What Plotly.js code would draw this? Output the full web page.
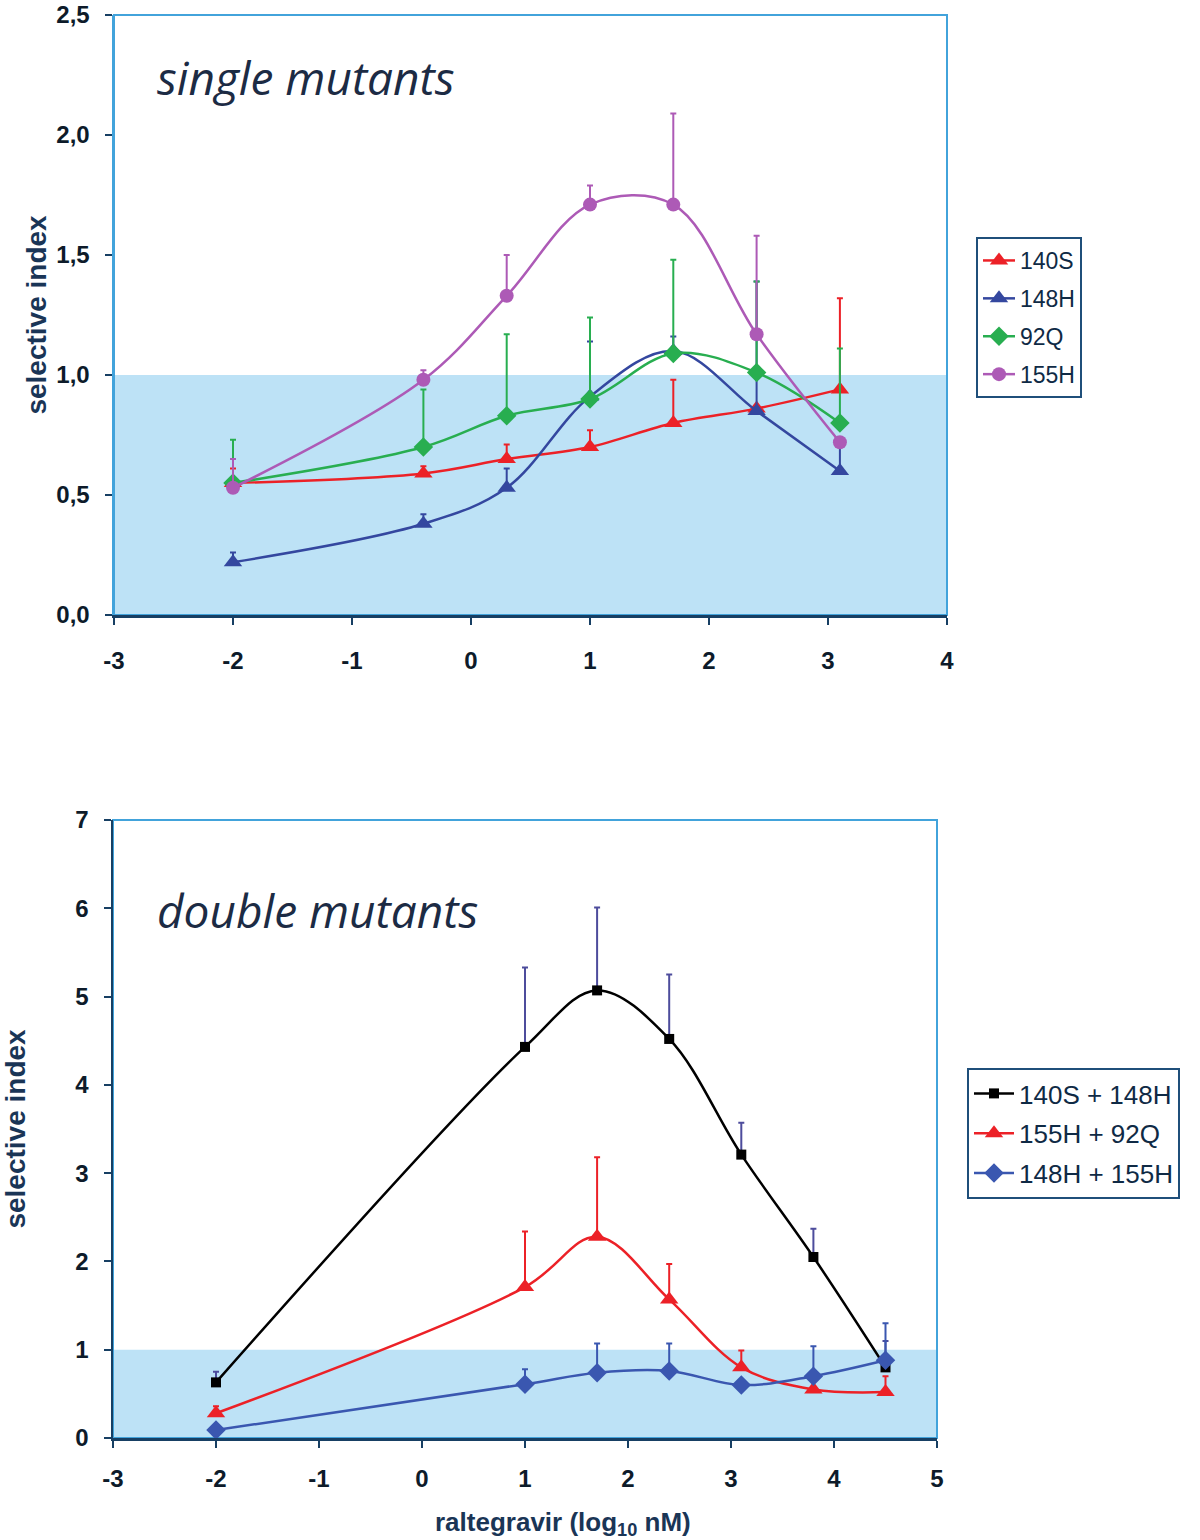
<!DOCTYPE html>
<html>
<head>
<meta charset="utf-8">
<script src="https://cdn.plot.ly/plotly-3.0.1.min.js"></script>
<style>html,body{margin:0;padding:0;background:#fff;}#chart{width:1200px;height:1540px;}</style>
</head>
<body>
<div id="chart"></div>
<script>
// ---------- data: single mutants (top panel) ----------
const xSingle = [-2, -0.4, 0.3, 1, 1.7, 2.4, 3.1];
const names1 = ['140S', '148H', '92Q', '155H'];
const v140S = [0.55, 0.59, 0.65, 0.70, 0.80, 0.86, 0.94];
const e140S = [0.06, 0.03, 0.06, 0.07, 0.18, 0.00, 0.38];
const v148H = [0.22, 0.38, 0.53, 0.91, 1.10, 0.85, 0.60];
const e148H = [0.04, 0.04, 0.08, 0.23, 0.06, 0.54, 0.12];
const v92Q  = [0.55, 0.70, 0.83, 0.90, 1.09, 1.01, 0.80];
const e92Q  = [0.18, 0.24, 0.34, 0.34, 0.39, 0.38, 0.31];
const v155H = [0.53, 0.98, 1.33, 1.71, 1.71, 1.17, 0.72];
const e155H = [0.12, 0.04, 0.17, 0.08, 0.38, 0.41, 0.00];

// ---------- data: double mutants (bottom panel) ----------
const xDouble = [-2, 1, 1.7, 2.4, 3.1, 3.8, 4.5];
const names2 = ['140S + 148H', '155H + 92Q', '148H + 155H'];
const vA = [0.63, 4.43, 5.07, 4.52, 3.21, 2.05, 0.80];
const eA = [0.12, 0.90, 0.94, 0.73, 0.36, 0.32, 0.30];
const vB = [0.28, 1.71, 2.28, 1.57, 0.80, 0.55, 0.52];
const eB = [0.08, 0.63, 0.90, 0.40, 0.19, 0.00, 0.18];
const vC = [0.09, 0.61, 0.74, 0.76, 0.60, 0.70, 0.88];
const eC = [0.00, 0.17, 0.33, 0.31, 0.00, 0.34, 0.42];

// ---------- tick labels ----------
const xTicks1 = [-3, -2, -1, 0, 1, 2, 3, 4];
const xLabels1 = ['-3', '-2', '-1', '0', '1', '2', '3', '4'];
const xTicks2 = [-3, -2, -1, 0, 1, 2, 3, 4, 5];
const xLabels2 = ['-3', '-2', '-1', '0', '1', '2', '3', '4', '5'];
const yTicks1 = [0, 0.5, 1, 1.5, 2, 2.5];
const yLabels1 = ['0,0', '0,5', '1,0', '1,5', '2,0', '2,5'];
const yTicks2 = [0, 1, 2, 3, 4, 5, 6, 7];
const yLabels2 = ['0', '1', '2', '3', '4', '5', '6', '7'];

const RED = '#ec2127', BLUE = '#34479f', GREEN = '#28ae50', PURPLE = '#ad5ab6',
      BLACK = '#000000', BLUE2 = '#3a57b0', ERRNAVY = '#4d4c9c';
const NAVY = '#173f63', LIGHTAX = '#42a3db', BAND = '#bde2f6', TXT = '#0d1b2a';

function tr(x, y, e, name, color, sym, size, xa, ya, legend, group, ecolor) {
  return {
    type: 'scatter', mode: 'lines+markers', x: x, y: y, name: name,
    xaxis: xa, yaxis: ya, legend: legend, legendgroup: group,
    line: {color: color, width: 2.5, shape: 'spline', smoothing: 1},
    marker: {color: color, symbol: sym, size: size},
    error_y: {type: 'data', symmetric: false, array: e, arrayminus: e.map(() => 0),
              color: ecolor || color, thickness: 2, width: 3}
  };
}

const data = [
  tr(xSingle, v140S, e140S, names1[0], RED, 'triangle-up', 16, 'x', 'y', 'legend', 'a1'),
  tr(xSingle, v148H, e148H, names1[1], BLUE, 'triangle-up', 16, 'x', 'y', 'legend', 'a2'),
  tr(xSingle, v92Q, e92Q, names1[2], GREEN, 'diamond', 15, 'x', 'y', 'legend', 'a3'),
  tr(xSingle, v155H, e155H, names1[3], PURPLE, 'circle', 14, 'x', 'y', 'legend', 'a4'),
  tr(xDouble, vA, eA, names2[0], BLACK, 'square', 10, 'x2', 'y2', 'legend2', 'b1', ERRNAVY),
  tr(xDouble, vB, eB, names2[1], RED, 'triangle-up', 16, 'x2', 'y2', 'legend2', 'b2'),
  tr(xDouble, vC, eC, names2[2], BLUE2, 'diamond', 15, 'x2', 'y2', 'legend2', 'b3')
];

const FAM = 'Liberation Sans, Arial, sans-serif';
const tickFont = {family: FAM, size: 24, color: TXT, weight: 'bold'};
const titleFont = {family: FAM, size: 28, color: '#1a3556', weight: 'bold'};

function xAxis(range, domain, anchor, tv, tt, stand) {
  return {
    domain: domain, anchor: anchor, range: range, tickmode: 'array', tickvals: tv, ticktext: tt,
    showgrid: false, zeroline: false, showline: true, linecolor: NAVY, linewidth: 2.5,
    ticks: 'outside', ticklen: 7, tickwidth: 2, tickcolor: NAVY,
    tickfont: tickFont, ticklabelstandoff: stand, ticklabeloverflow: 'allow', fixedrange: true
  };
}
function yAxis(range, domain, anchor, tv, tt, lcolor, standoff) {
  return {
    domain: domain, anchor: anchor, range: range, tickmode: 'array', tickvals: tv, ticktext: tt,
    showgrid: false, zeroline: false, showline: true, linecolor: lcolor, linewidth: 2.5,
    ticks: 'outside', ticklen: 7, tickwidth: 2, tickcolor: NAVY,
    tickfont: tickFont, ticklabelstandoff: 10, ticklabeloverflow: 'allow', fixedrange: true,
    title: {text: 'selective index', font: titleFont, standoff: standoff}
  };
}

const layout = {
  width: 1200, height: 1540,
  margin: {l: 0, r: 0, t: 0, b: 0},
  paper_bgcolor: '#ffffff', plot_bgcolor: '#ffffff',
  showlegend: true,
  xaxis: xAxis([-3, 4], [114/1200, 947/1200], 'y', xTicks1, xLabels1, 16),
  yaxis: yAxis([0, 2.5001], [1 - 615/1540, 1 - 15/1540], 'x', yTicks1, yLabels1, LIGHTAX, 2),
  xaxis2: xAxis([-3, 5], [113/1200, 937/1200], 'y2', xTicks2, xLabels2, 11),
  yaxis2: yAxis([0, 7.0001], [1 - 1438/1540, 1 - 820/1540], 'x2', yTicks2, yLabels2, NAVY, 42),
  legend: {
    x: 976/1200, y: 1 - 237/1540, xanchor: 'left', yanchor: 'top',
    bgcolor: '#ffffff', bordercolor: '#1f4f7a', borderwidth: 2,
    font: {family: FAM, size: 23, color: '#0f2a45'},
    traceorder: 'grouped', tracegroupgap: 5, itemwidth: 32
  },
  legend2: {
    x: 967/1200, y: 1 - 1068/1540, xanchor: 'left', yanchor: 'top',
    bgcolor: '#ffffff', bordercolor: '#1f4f7a', borderwidth: 2,
    font: {family: FAM, size: 26, color: '#0f2a45'},
    traceorder: 'grouped', tracegroupgap: 3, itemwidth: 40
  },
  shapes: [
    {type: 'rect', xref: 'x domain', yref: 'y', x0: 0, x1: 1, y0: 0, y1: 1,
     fillcolor: BAND, line: {width: 0}, layer: 'below'},
    {type: 'rect', xref: 'x domain', yref: 'y domain', x0: 0, x1: 1, y0: 0, y1: 1,
     fillcolor: 'rgba(0,0,0,0)', line: {color: LIGHTAX, width: 2}, layer: 'below'},
    {type: 'rect', xref: 'x2 domain', yref: 'y2', x0: 0, x1: 1, y0: 0, y1: 1,
     fillcolor: BAND, line: {width: 0}, layer: 'below'},
    {type: 'rect', xref: 'x2 domain', yref: 'y2 domain', x0: 0, x1: 1, y0: 0, y1: 1,
     fillcolor: 'rgba(0,0,0,0)', line: {color: LIGHTAX, width: 2}, layer: 'below'}
  ],
  annotations: [
    {text: 'single mutants', xref: 'paper', yref: 'paper', x: 155/1200, y: 1 - 77/1540,
     xanchor: 'left', yanchor: 'middle', showarrow: false,
     font: {family: 'Open Sans, sans-serif', size: 46, color: '#1c2b44', style: 'italic'}},
    {text: 'double mutants', xref: 'paper', yref: 'paper', x: 155/1200, y: 1 - 910/1540,
     xanchor: 'left', yanchor: 'middle', showarrow: false,
     font: {family: 'Open Sans, sans-serif', size: 46, color: '#1c2b44', style: 'italic'}},
    {text: 'raltegravir (log<sub>10</sub> nM)', xref: 'paper', yref: 'paper', x: 563/1200, y: 1 - 1523/1540,
     xanchor: 'center', yanchor: 'middle', showarrow: false,
     font: {family: FAM, size: 26, color: '#1a3556', weight: 'bold'}}
  ]
};

Plotly.newPlot('chart', data, layout, {displayModeBar: false, staticPlot: true});
</script>
</body>
</html>
